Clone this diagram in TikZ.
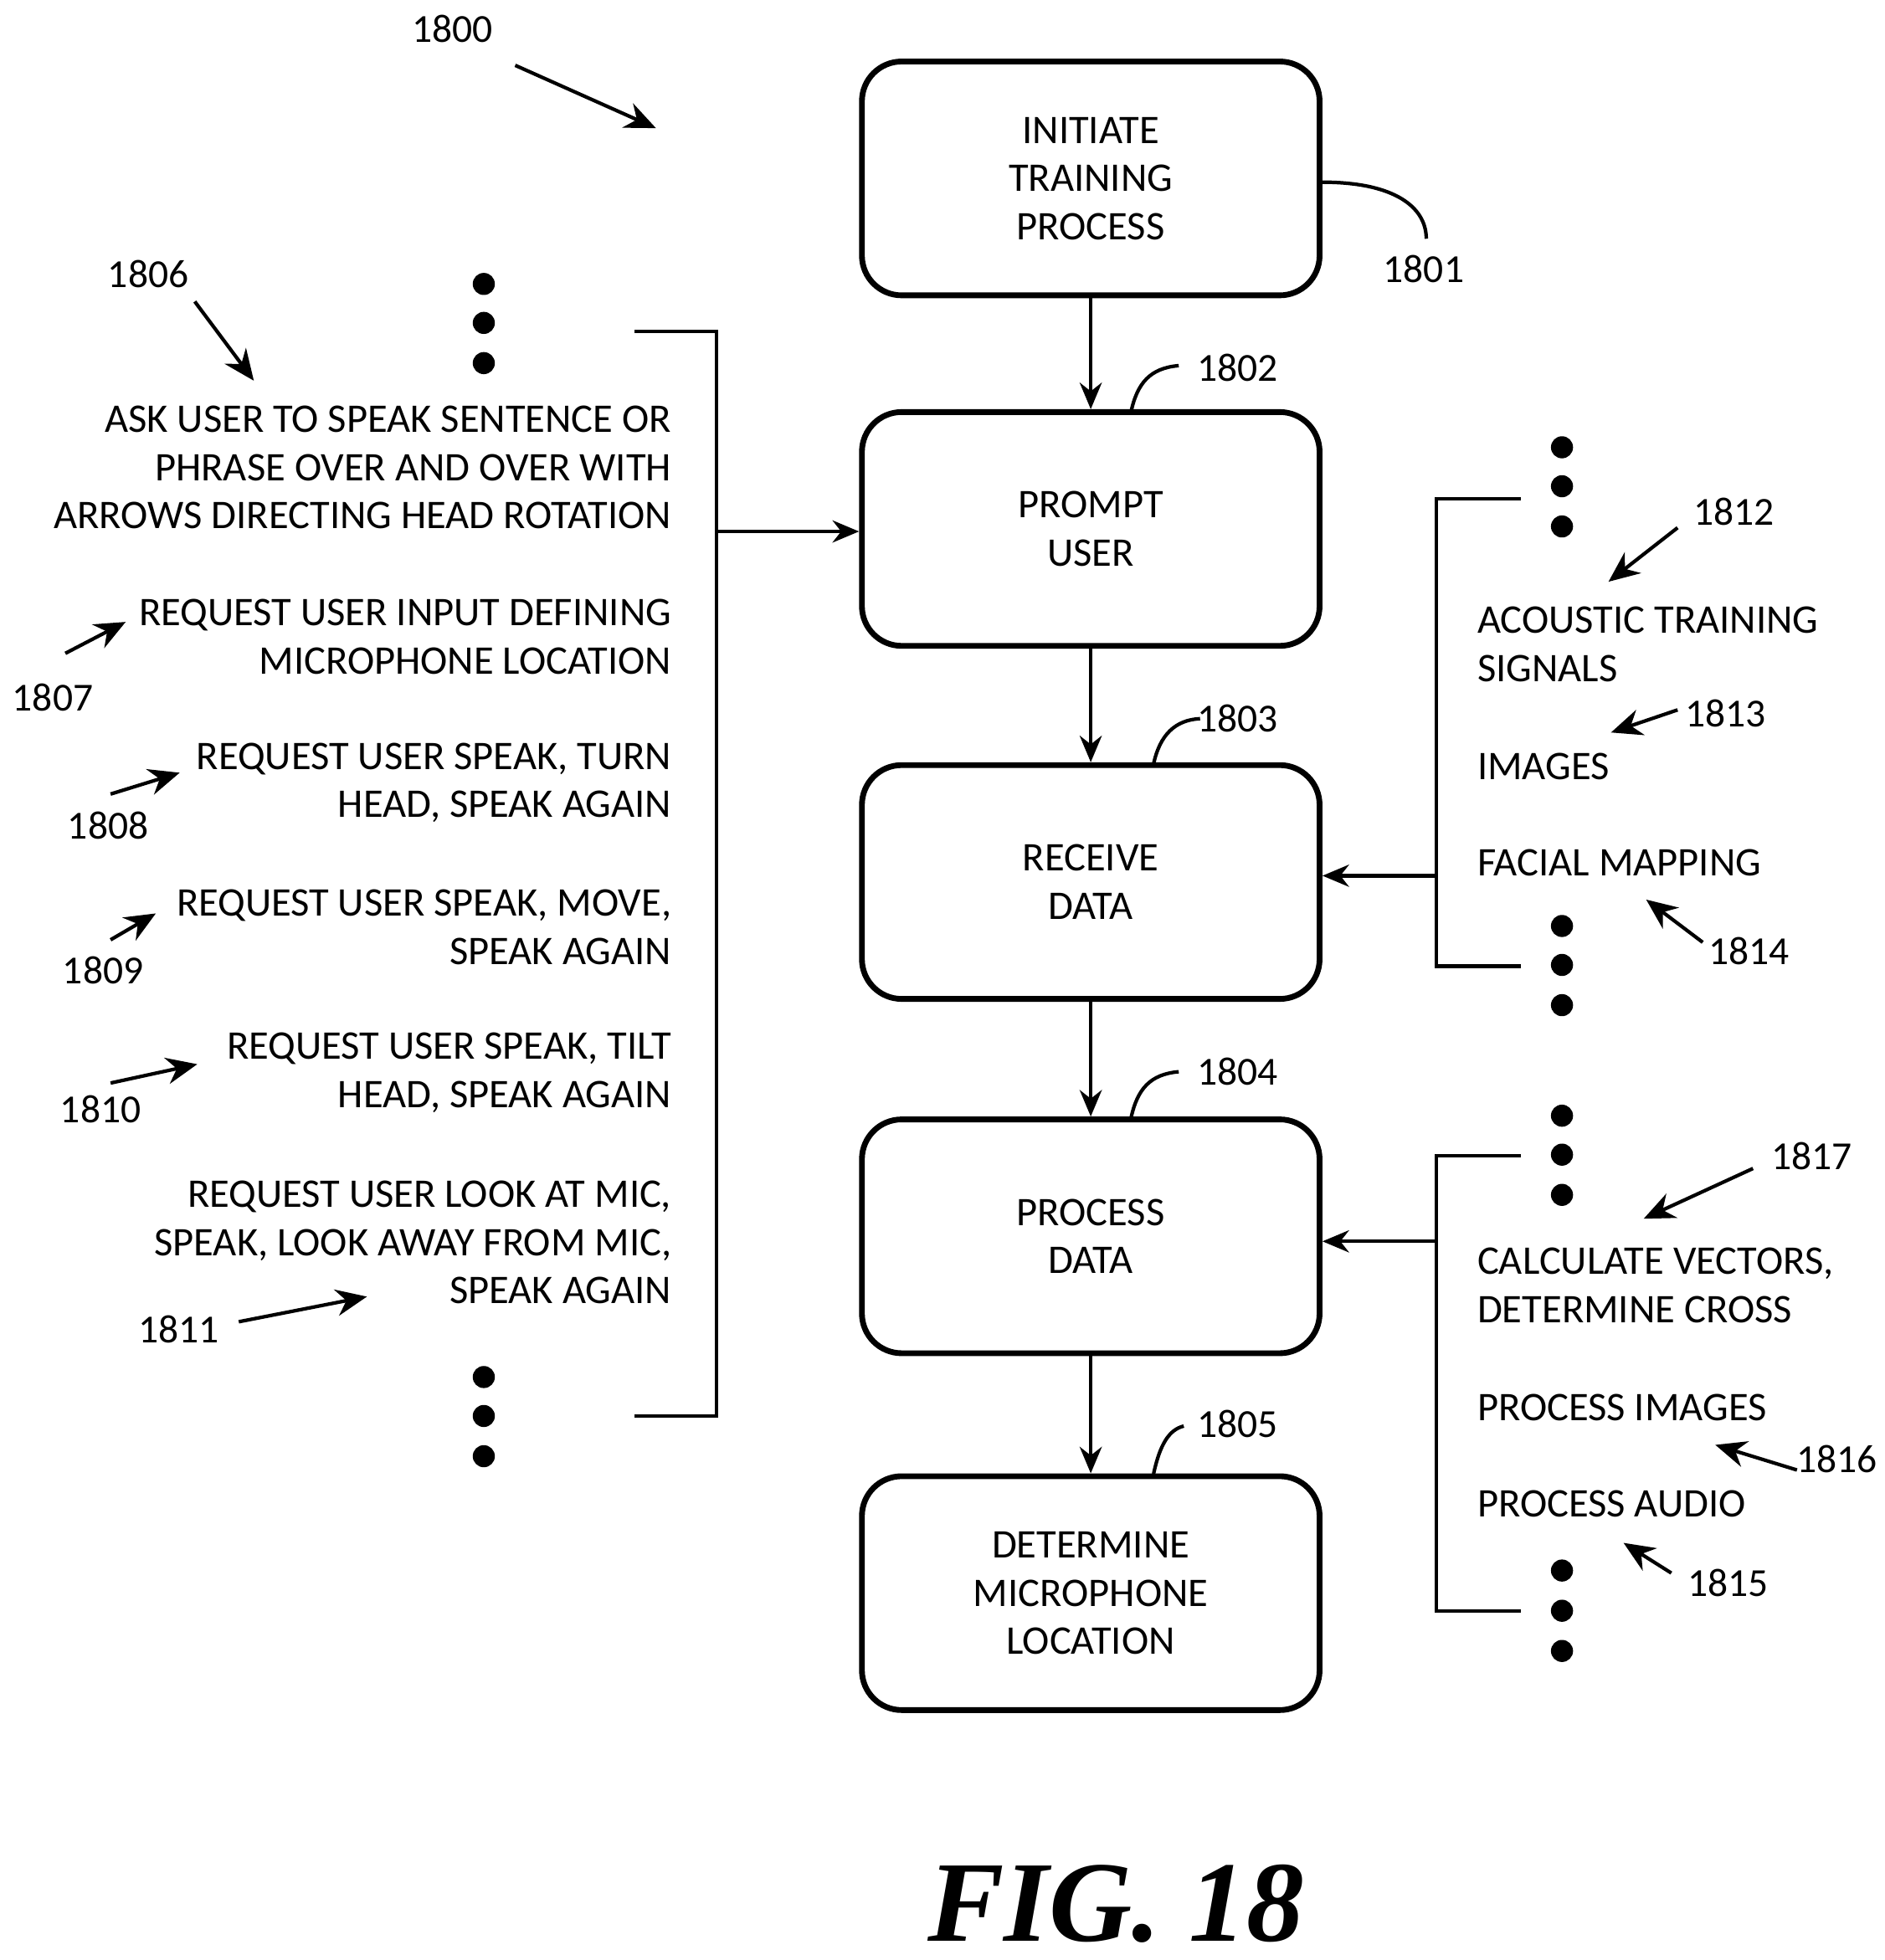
\documentclass[tikz,border=0pt]{standalone}
\usepackage{fontspec}
\setmainfont{Carlito}
\newfontfamily\figfont{Liberation Serif}
\usetikzlibrary{arrows.meta}
\tikzset{
  stage/.style={draw, line width=1.3pt, rounded corners=9pt, minimum width=3.64cm,
    minimum height=1.86cm, align=center, font=\fontsize{9.2}{10.9}\selectfont},
  txt/.style={inner sep=0pt, font=\fontsize{9.2}{10.9}\selectfont},
  ref/.style={font=\fontsize{9}{10.9}\selectfont},
  flow/.style={-{Stealth[length=6pt,width=5pt]}, line width=0.8pt},
  lead/.style={-{Stealth[length=7pt,width=6pt]}, line width=0.8pt},
  dot/.style={fill, circle, inner sep=0pt, minimum size=5pt}
}
\begin{document}
\begin{tikzpicture}[x=0.01cm, y=-0.01cm]
\useasboundingbox (0,0) rectangle (1500,1560);

% MAIN STEPS
\node[stage] (init) at (868,142) {INITIATE\\TRAINING\\PROCESS};
\node[stage] (prompt) at (868,421) {PROMPT\\USER};
\node[stage] (receive) at (868,702) {RECEIVE\\DATA};
\node[stage] (process) at (868,984) {PROCESS\\DATA};
\node[stage] (locate) at (868,1268) {DETERMINE\\MICROPHONE\\LOCATION};
\draw[flow] (init) -- (prompt);
\draw[flow] (prompt) -- (receive);
\draw[flow] (receive) -- (process);
\draw[flow] (process) -- (locate);

% PROMPT OPTIONS
\node[txt, anchor=east, align=right] (p6) at (535,372) {ASK USER TO SPEAK SENTENCE OR\\PHRASE OVER AND OVER WITH\\ARROWS DIRECTING HEAD ROTATION};
\node[txt, anchor=east, align=right] (p7) at (535,507) {REQUEST USER INPUT DEFINING\\MICROPHONE LOCATION};
\node[txt, anchor=east, align=right] (p8) at (535,623) {REQUEST USER SPEAK, TURN\\HEAD, SPEAK AGAIN};
\node[txt, anchor=east, align=right] (p9) at (535,738) {REQUEST USER SPEAK, MOVE,\\SPEAK AGAIN};
\node[txt, anchor=east, align=right] (p10) at (535,854) {REQUEST USER SPEAK, TILT\\HEAD, SPEAK AGAIN};
\node[txt, anchor=east, align=right] (p11) at (535,989) {REQUEST USER LOOK AT MIC,\\SPEAK, LOOK AWAY FROM MIC,\\SPEAK AGAIN};
\foreach \y in {226,257,289,1096,1127,1159} \node[dot] at (385,\y) {};
\coordinate (lt) at (505,264);
\coordinate (lb) at (505,1127);
\coordinate (lm) at (570,423);
\draw[line width=0.8pt] (lt) -- (570,264) -- (570,1127) -- (lb);
\draw[flow] (lm) -- (prompt.west |- lm);

% RECEIVED DATA
\node[txt, anchor=west, align=left] (r12) at (1175,513) {ACOUSTIC TRAINING\\SIGNALS};
\node[txt, anchor=west] (r13) at (1175,610) {IMAGES};
\node[txt, anchor=west] (r14) at (1175,687) {FACIAL MAPPING};
\foreach \y in {356,387,419,737,768,800} \node[dot] at (1243,\y) {};
\coordinate (rt) at (1210,397);
\coordinate (rb) at (1210,769);
\coordinate (rm) at (1143,697);
\draw[line width=0.8pt] (rt) -- (1143,397) -- (1143,769) -- (rb);
\draw[flow] (rm) -- (receive.east |- rm);

% PROCESSING
\node[txt, anchor=west, align=left] (c17) at (1175,1023) {CALCULATE VECTORS,\\DETERMINE CROSS};
\node[txt, anchor=west] (c16) at (1175,1120) {PROCESS IMAGES};
\node[txt, anchor=west] (c15) at (1175,1197) {PROCESS AUDIO};
\foreach \y in {888,919,951,1250,1282,1314} \node[dot] at (1243,\y) {};
\coordinate (ct) at (1210,920);
\coordinate (cb) at (1210,1282);
\coordinate (cm) at (1143,988);
\draw[line width=0.8pt] (ct) -- (1143,920) -- (1143,1282) -- (cb);
\draw[flow] (cm) -- (process.east |- cm);

% REFERENCE NUMERALS
\node[ref] (n1800) at (360,23) {1800};
\draw[lead] (410,52) -- (522,102);
\node[ref] (n1801) at (1133,214) {1801};
\draw[line width=0.8pt] (init.east |- 0,145) .. controls (1110,145) and (1135,165) .. (1135,190);
\node[ref] (n1802) at (985,293) {1802};
\draw[line width=0.8pt] (900,328) .. controls (905,305) and (915,293) .. (938,291);
\node[ref] (n1803) at (985,572) {1803};
\draw[line width=0.8pt] (918,608) .. controls (923,585) and (935,573) .. (955,572);
\node[ref] (n1804) at (985,853) {1804};
\draw[line width=0.8pt] (900,890) .. controls (905,867) and (915,855) .. (938,853);
\node[ref] (n1805) at (985,1133) {1805};
\draw[line width=0.8pt] (918,1173) .. controls (923,1150) and (930,1138) .. (942,1135);

\node[ref] (n1806) at (118,218) {1806};
\draw[lead] (155,240) -- (202,303);
\node[ref] (n1807) at (42,555) {1807};
\draw[lead] (52,520) -- (100,495);
\node[ref] (n1808) at (86,657) {1808};
\draw[lead] (88,632) -- (143,615);
\node[ref] (n1809) at (82,772) {1809};
\draw[lead] (88,748) -- (124,727);
\node[ref] (n1810) at (80,883) {1810};
\draw[lead] (88,862) -- (157,847);
\node[ref] (n1811) at (142,1058) {1811};
\draw[lead] (190,1052) -- (292,1032);

\node[ref] (n1812) at (1380,407) {1812};
\draw[lead] (1335,420) -- (1280,463);
\node[ref] (n1813) at (1373,568) {1813};
\draw[lead] (1335,565) -- (1282,583);
\node[ref] (n1814) at (1392,757) {1814};
\draw[lead] (1355,750) -- (1310,716);
\node[ref] (n1817) at (1442,920) {1817};
\draw[lead] (1395,930) -- (1308,970);
\node[ref] (n1816) at (1462,1161) {1816};
\draw[lead] (1430,1170) -- (1365,1150);
\node[ref] (n1815) at (1375,1260) {1815};
\draw[lead] (1330,1252) -- (1292,1228);

% FIGURE CAPTION
\node[font=\figfont\bfseries\itshape\fontsize{26}{28}\selectfont] (fig) at (888,1515) {FIG. 18};
\end{tikzpicture}
\end{document}
